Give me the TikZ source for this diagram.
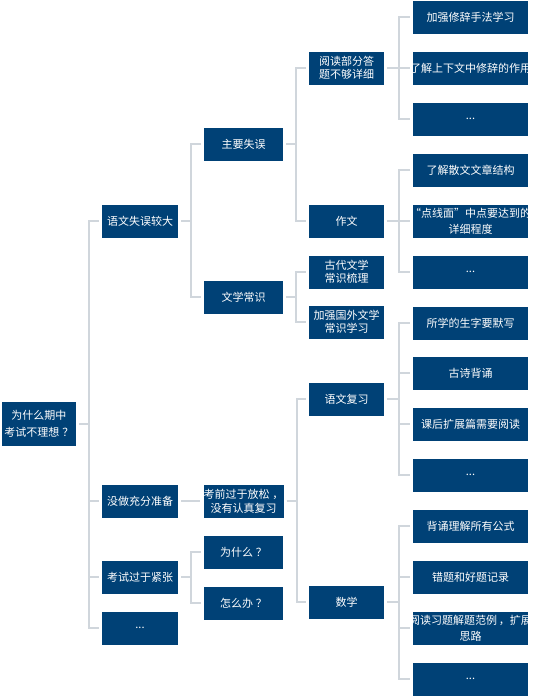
\documentclass[tikz,border=0pt]{standalone}
\usepackage{fontspec}
\newfontfamily\cjk{Noto Sans CJK SC}
\definecolor{boxblue}{RGB}{0,65,118}
\definecolor{linegray}{RGB}{208,214,220}
\tikzset{
  box/.style={fill=boxblue, text=white, inner sep=0pt, align=center,
    font=\cjk\fontsize{11}{13}\selectfont, minimum height=33pt},
  rootbox/.style={box, minimum width=74pt, minimum height=44pt,
    font=\cjk\fontsize{11}{17}\selectfont},
  lone/.style={box, minimum width=76pt},
  ltwo/.style={box, minimum width=79pt, font=\cjk\fontsize{11}{14}\selectfont},
  lthree/.style={box, minimum width=75pt},
  leaf/.style={box, minimum width=115pt},
  leaftext/.style={text=white, inner sep=0pt, align=center,
    font=\cjk\fontsize{11}{16}\selectfont},
  conn/.style={draw=linegray, line width=2pt},
}
\newcommand{\leafnode}[3]{%
  \node[leaf, path picture={\node[leaftext] at (path picture bounding box.center) {#3};}] (#1) at (470.5,#2) {};}
\begin{document}
\begin{tikzpicture}[x=1pt,y=-1pt]
\useasboundingbox (0,0) rectangle (533,697);
% root
\node[rootbox] (root) at (39,424) {为什么期中\\考试不理想\kern3pt？};
% level 1
\node[lone] (a1) at (140,221) {语文失误较大};
\node[lone] (a2) at (140,501) {没做充分准备};
\node[lone] (a3) at (140,577) {考试过于紧张};
\node[lone] (a4) at (140,628) {...};
% level 2
\node[ltwo] (b1) at (243.5,144) {主要失误};
\node[ltwo] (b2) at (243.5,297) {文学常识};
\node[ltwo] (b3) at (243.5,501) {考前过于放松\kern3pt，\\没有认真复习};
\node[ltwo] (b4) at (243.5,552) {为什么\kern3pt？};
\node[ltwo] (b5) at (243.5,603) {怎么办\kern3pt？};
% level 3
\node[lthree] (c1) at (346.5,68) {阅读部分答\\题不够详细};
\node[lthree] (c2) at (346.5,221) {作文};
\node[lthree] (c3) at (346.5,272) {古代文学\\常识梳理};
\node[lthree] (c4) at (346.5,322) {加强国外文学\\常识学习};
\node[lthree] (c5) at (346.5,399) {语文复习};
\node[lthree] (c6) at (346.5,602) {数学};
% level 4
\leafnode{d1}{17}{加强修辞手法学习}
\leafnode{d2}{68}{了解上下文中修辞的作用}
\leafnode{d3}{119}{...}
\leafnode{d4}{170}{了解散文文章结构}
\leafnode{d5}{221}{“点线面”中点要达到的\\详细程度}
\leafnode{d6}{272}{...}
\leafnode{d7}{323}{所学的生字要默写}
\leafnode{d8}{373}{古诗背诵}
\leafnode{d9}{424}{课后扩展篇需要阅读}
\leafnode{d10}{475}{...}
\leafnode{d11}{526}{背诵理解所有公式}
\leafnode{d12}{577}{错题和好题记录}
\leafnode{d13}{628}{阅读习题解题范例\kern2pt，扩展\\思路}
\leafnode{d14}{679}{...}
% connectors
\draw[conn] ([xshift=3pt]root.east) -- ++(10,0) coordinate (s0);
\foreach \c in {a1,a2,a3,a4} \draw[conn] (s0) |- ([xshift=-3pt]\c.west);
\draw[conn] ([xshift=3pt]a1.east) -- ++(10,0) coordinate (s1);
\foreach \c in {b1,b2} \draw[conn] (s1) |- ([xshift=-3pt]\c.west);
\draw[conn] ([xshift=3pt]a2.east) -- ([xshift=-3pt]b3.west);
\draw[conn] ([xshift=3pt]a3.east) -- ++(10,0) coordinate (s3);
\foreach \c in {b4,b5} \draw[conn] (s3) |- ([xshift=-3pt]\c.west);
\draw[conn] ([xshift=3pt]b1.east) -- ++(10,0) coordinate (t1);
\foreach \c in {c1,c2} \draw[conn] (t1) |- ([xshift=-3pt]\c.west);
\draw[conn] ([xshift=3pt]b2.east) -- ++(10,0) coordinate (t2);
\foreach \c in {c3,c4} \draw[conn] (t2) |- ([xshift=-3pt]\c.west);
\draw[conn] ([xshift=3pt]b3.east) -- ++(10,0) coordinate (t3);
\foreach \c in {c5,c6} \draw[conn] (t3) |- ([xshift=-3pt]\c.west);
\draw[conn] ([xshift=3pt]c1.east) -- ++(12,0) coordinate (u1);
\foreach \c in {d1,d2,d3} \draw[conn] (u1) |- ([xshift=-3pt]\c.west);
\draw[conn] ([xshift=3pt]c2.east) -- ++(12,0) coordinate (u2);
\foreach \c in {d4,d5,d6} \draw[conn] (u2) |- ([xshift=-3pt]\c.west);
\draw[conn] ([xshift=3pt]c5.east) -- ++(12,0) coordinate (u5);
\foreach \c in {d7,d8,d9,d10} \draw[conn] (u5) |- ([xshift=-3pt]\c.west);
\draw[conn] ([xshift=3pt]c6.east) -- ++(12,0) coordinate (u6);
\foreach \c in {d11,d12,d13,d14} \draw[conn] (u6) |- ([xshift=-3pt]\c.west);
\end{tikzpicture}
\end{document}
